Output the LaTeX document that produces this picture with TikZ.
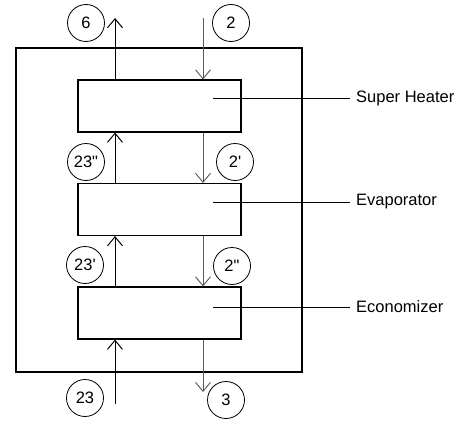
\documentclass[tikz,border=0pt]{standalone}
\usepackage{fontspec}
\newfontfamily\plainsans{Liberation Sans}
\usetikzlibrary{arrows.meta}
\begin{document}
\begin{tikzpicture}[x=1pt,y=-1pt,
  tip/.tip={Straight Barb[length=9pt,width=15pt]},
  unit/.style={draw, line width=1.1pt, minimum width=163pt, minimum height=52pt, inner sep=0pt},
  casing/.style={line width=1.1pt},
  upflow/.style={line width=1pt, -tip},
  downflow/.style={line width=0.9pt, draw=black!65, -tip},
  stream/.style={draw, circle, line width=0.8pt, minimum size=37pt, inner sep=0pt, font=\plainsans\fontsize{16.5}{18}\selectfont},
  leader/.style={line width=1pt},
  tag/.style={anchor=west, inner xsep=6pt, inner ysep=0pt, font=\plainsans\fontsize{16.5}{18}\selectfont}
]
\useasboundingbox (0,0) rectangle (463,423);

% boiler casing
\draw[casing] (16,48) rectangle (302,372);

% heat exchanger sections
\node[unit] (sh) at (159.5,106) {};
\node[unit] (ev) at (159.5,209.5) {};
\node[unit] (ec) at (159.5,313) {};

% free ends of the inlet/outlet pipes
\coordinate (out6) at (115,18);
\coordinate (in2) at (203,18);
\coordinate (in23) at (115,404);
\coordinate (out3) at (203,392);

% flue-side (left) stream, flowing upwards
\draw[upflow] (in23) -- (in23 |- ec.south);
\draw[upflow] (ec.north -| in23) -- (in23 |- ev.south);
\draw[upflow] (ev.north -| in23) -- (in23 |- sh.south);
\draw[upflow] (sh.north -| out6) -- (out6);

% water/steam (right) stream, flowing downwards
\draw[downflow] (in2) -- (in2 |- sh.north);
\draw[downflow] (sh.south -| in2) -- (in2 |- ev.north);
\draw[downflow] (ev.south -| in2) -- (in2 |- ec.north);
\draw[downflow] (ec.south -| out3) -- (out3);

% state point markers
\node[stream] (p6) at (86,23) {6};
\node[stream] (p2) at (231,23) {2};
\node[stream] (p23b) at (86,162) {23"};
\node[stream] (p2a) at (235,162) {2'};
\node[stream] (p23a) at (85,265) {23'};
\node[stream] (p2b) at (232,266) {2"};
\node[stream] (p23) at (85,398) {23};
\node[stream] (p3) at (226,400) {3};

% section names with leader lines
\node[tag] (tsh) at (350,98) {Super Heater};
\node[tag] (tev) at (350,202) {Evaporator};
\node[tag] (tec) at (350,307) {Economizer};
\coordinate (ash) at (213,98);
\coordinate (aev) at (213,202);
\coordinate (aec) at (213,307);
\draw[leader] (ash) -- (tsh.west);
\draw[leader] (aev) -- (tev.west);
\draw[leader] (aec) -- (tec.west);
\end{tikzpicture}
\end{document}
